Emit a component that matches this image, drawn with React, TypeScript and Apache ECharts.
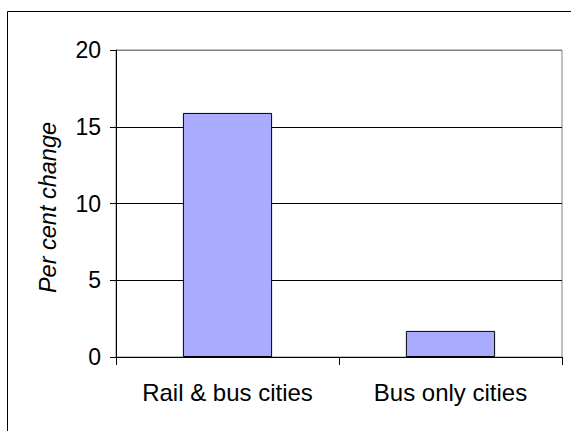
import React, { useEffect, useRef } from "react";
import * as echarts from "echarts";

const categories = ["Rail & bus cities", "Bus only cities"];
const percentChange = [15.9, 1.7];
const yTicks = { min: 0, max: 20, interval: 5 };
const yAxisTitle = "Per cent change";

const FONT = "'Liberation Sans', Arial, Helvetica, sans-serif";

export default function App() {
  const ref = useRef<HTMLDivElement>(null);

  useEffect(() => {
    document.body.style.margin = "0";
    if (!ref.current) return;
    const chart = echarts.init(ref.current, undefined, { renderer: "svg" });
    chart.setOption({
      animation: false,
      backgroundColor: "#ffffff",
      grid: {
        left: 116,
        right: 9,
        top: 50,
        bottom: 74,
        show: true,
        borderColor: "#808080",
        borderWidth: 1,
        backgroundColor: "transparent",
      },
      xAxis: {
        type: "category",
        data: categories,
        axisLine: { show: true, lineStyle: { color: "#000", width: 1 } },
        axisTick: {
          show: true,
          alignWithLabel: false,
          length: 8,
          lineStyle: { color: "#000" },
        },
        axisLabel: {
          color: "#000",
          fontFamily: FONT,
          fontSize: 24,
          margin: 23,
        },
        splitLine: { show: false },
      },
      yAxis: {
        type: "value",
        min: yTicks.min,
        max: yTicks.max,
        interval: yTicks.interval,
        axisLine: { show: true, lineStyle: { color: "#000", width: 1 } },
        axisTick: { show: true, inside: false, length: 6, lineStyle: { color: "#000" } },
        axisLabel: {
          color: "#000",
          fontFamily: FONT,
          fontSize: 23,
          margin: 15,
        },
        splitLine: {
          show: true,
          lineStyle: {
            color: ["#000", "#000", "#000", "#000", "#808080"],
            width: 1,
          },
        },
      },
      series: [
        {
          type: "bar",
          data: percentChange,
          barWidth: "40%",
          itemStyle: {
            color: "#AAAAFF",
            borderColor: "#000",
            borderWidth: 1,
          },
        },
      ],
      graphic: [
        {
          type: "rect",
          shape: { x: 7.5, y: 11.5, width: 700, height: 600 },
          style: { fill: "none", stroke: "#000", lineWidth: 1 },
          silent: true,
        },
        {
          type: "text",
          x: 48,
          y: 207.5,
          rotation: Math.PI / 2,
          style: {
            text: yAxisTitle,
            fill: "#000",
            font: `italic 23.5px ${FONT}`,
            align: "center",
            verticalAlign: "middle",
          },
          silent: true,
        },
      ],
    });
    return () => chart.dispose();
  }, []);

  return <div ref={ref} style={{ width: 571, height: 431 }} />;
}
